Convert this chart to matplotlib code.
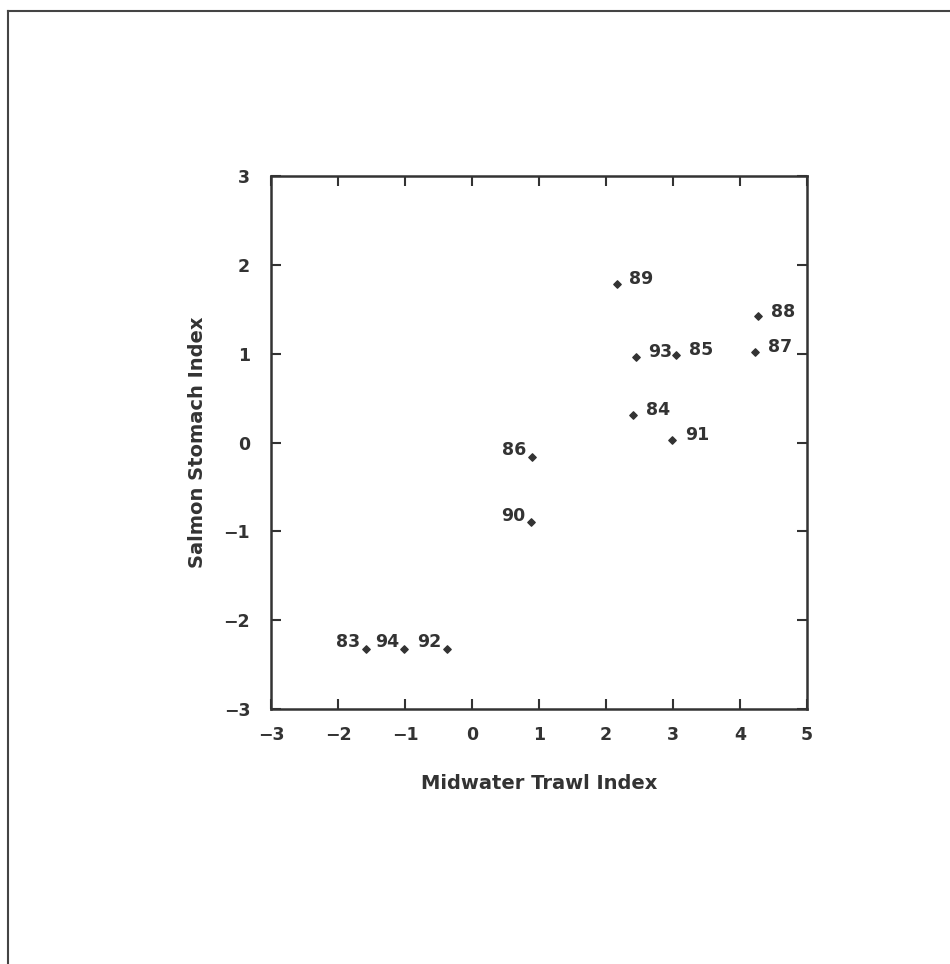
import matplotlib
matplotlib.use('Agg')
import matplotlib.pyplot as plt
from matplotlib.lines import Line2D

# yearly index values (midwater trawl vs salmon stomach)
years = ['83', '84', '85', '86', '87', '88', '89', '90', '91', '92', '93', '94']
trawl = [-1.58, 2.41, 3.05, 0.89, 4.23, 4.27, 2.16, 0.88, 2.99, -0.38, 2.44, -1.01]
stomach = [-2.32, 0.31, 0.99, -0.16, 1.02, 1.42, 1.79, -0.90, 0.03, -2.32, 0.96, -2.32]
# which side of the marker the year label sits on
label_side = ['left', 'right', 'right', 'left', 'right', 'right', 'right',
              'left', 'right', 'left', 'right', 'left']

ink = '#333333'
plt.rcParams['font.family'] = 'DejaVu Sans'
plt.rcParams['font.weight'] = 'bold'

fig = plt.figure(figsize=(9.5, 9.64), dpi=100)
ax = fig.add_axes([0.2853, 0.2645, 0.5642, 0.5529])

ax.scatter(trawl, stomach, marker='D', s=14, color=ink, zorder=3)

for x, y, lab, side in zip(trawl, stomach, years, label_side):
    if side == 'right':
        ax.annotate(lab, (x, y), xytext=(9, 3.5), textcoords='offset points',
                    ha='left', va='center', fontsize=12.5, fontweight='bold', color=ink)
    else:
        ax.annotate(lab, (x, y), xytext=(-4, 5), textcoords='offset points',
                    ha='right', va='center', fontsize=12.5, fontweight='bold', color=ink)

ax.set_xlim(-3, 5)
ax.set_ylim(-3, 3)
ax.set_xticks(range(-3, 6))
ax.set_yticks(range(-3, 4))
ax.set_xticklabels([str(v).replace('-', '\u2212') for v in range(-3, 6)])
ax.set_yticklabels([str(v).replace('-', '\u2212') for v in range(-3, 4)])
ax.tick_params(direction='in', length=7, width=1.5, color=ink, labelcolor=ink,
               labelsize=12.5, top=True, right=True)
ax.tick_params(axis='x', pad=12)
ax.tick_params(axis='y', pad=15)
for sp in ax.spines.values():
    sp.set_linewidth(1.8)
    sp.set_color(ink)

ax.set_xlabel('Midwater Trawl Index', fontsize=14, fontweight='bold', color=ink, labelpad=22)
ax.set_ylabel('Salmon Stomach Index', fontsize=14, fontweight='bold', color=ink, labelpad=12)

# page frame, top and left edges
fig.add_artist(Line2D([8 / 950, 1.0], [1 - 11 / 964, 1 - 11 / 964],
                      transform=fig.transFigure, color='#444444', lw=1.5))
fig.add_artist(Line2D([8 / 950, 8 / 950], [1 - 11 / 964, 0.0],
                      transform=fig.transFigure, color='#444444', lw=1.5))

fig.savefig('out.png', dpi=100)
